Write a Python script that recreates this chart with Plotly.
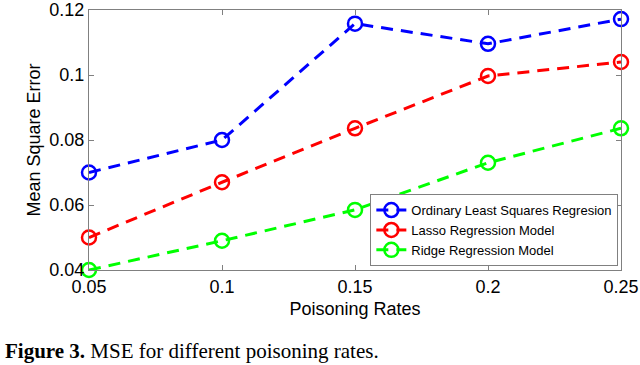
import plotly.graph_objects as go

rates = [0.05, 0.10, 0.15, 0.20, 0.25]
ols = [0.070, 0.080, 0.1158, 0.1096, 0.1172]
lasso = [0.050, 0.067, 0.0836, 0.0997, 0.1040]
ridge = [0.040, 0.049, 0.0585, 0.0730, 0.0836]
names = ["Ordinary Least Squares Regresion", "Lasso Regression Model", "Ridge Regression Model"]
colors = ["#0000ff", "#ff0000", "#00ff00"]
xticks = [0.05, 0.1, 0.15, 0.2, 0.25]
xticklabels = ["0.05", "0.1", "0.15", "0.2", "0.25"]
yticks = [0.04, 0.06, 0.08, 0.1, 0.12]
yticklabels = ["0.04", "0.06", "0.08", "0.1", "0.12"]

L, R, T, B = 89, 19, 10, 95
W, H = 640, 365
PW, PH = W - L - R, H - T - B

fig = go.Figure()
for name, vals, c in zip(names, [ols, lasso, ridge], colors):
    fig.add_trace(go.Scatter(
        x=rates, y=vals, name=name, mode="lines+markers",
        line=dict(color=c, width=3, dash="12px,8px"),
        marker=dict(symbol="circle-open", size=14, color=c, line=dict(width=2.5, color=c)),
        cliponaxis=False,
    ))

axis_common = dict(
    showgrid=False, zeroline=False, showline=True, linecolor="#808080", linewidth=1,
    mirror="ticks", ticks="inside", ticklen=5, tickcolor="#808080", automargin=False,
    ticklabeloverflow="allow",
    tickfont=dict(family="Liberation Sans, Arial", size=18, color="black"),
)
fig.update_xaxes(range=[0.05, 0.25], tickvals=xticks, ticktext=xticklabels,
                 title=dict(text="Poisoning Rates", font=dict(family="Liberation Sans, Arial", size=18, color="black"), standoff=6),
                 **axis_common)
fig.update_yaxes(range=[0.04, 0.12], tickvals=yticks, ticktext=yticklabels,
                 title=dict(text="Mean Square Error", font=dict(family="Liberation Sans, Arial", size=18, color="black"), standoff=4),
                 **axis_common)

fig.update_layout(
    width=W, height=H,
    margin=dict(l=L, r=R, t=T, b=B),
    paper_bgcolor="white", plot_bgcolor="white",
    showlegend=True,
    legend=dict(x=0.995, y=0.015, xanchor="right", yanchor="bottom",
                bgcolor="white", bordercolor="#808080", borderwidth=1,
                font=dict(family="Liberation Sans, Arial", size=13, color="black"),
                itemwidth=30, tracegroupgap=0),
    annotations=[dict(
        text="<b>Figure 3.</b> MSE for different poisoning rates.",
        xref="paper", yref="paper", x=-(L - 3) / PW, y=-(351 - (H - B)) / PH,
        xanchor="left", yanchor="middle", showarrow=False,
        font=dict(family="Liberation Serif, Times New Roman", size=21, color="black"),
    )],
)

fig.write_html("out.html", config={"displayModeBar": False},
               post_script="document.body.style.margin='0';")
